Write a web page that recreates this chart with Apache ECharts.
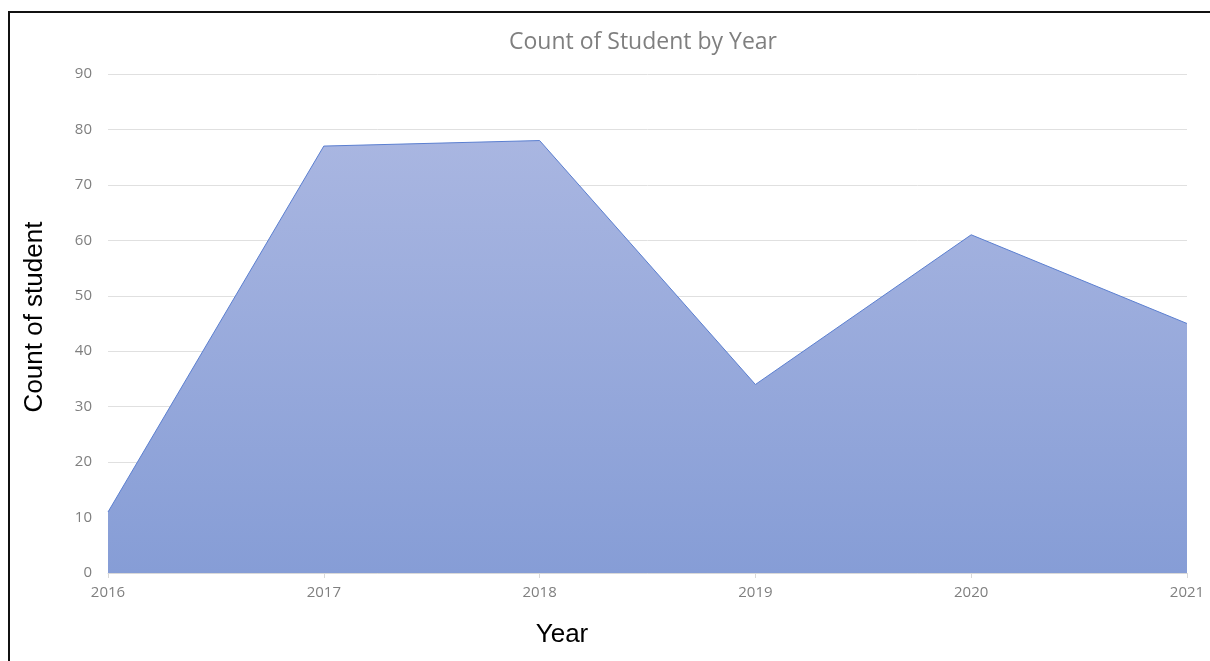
<!DOCTYPE html>
<html>
<head>
<meta charset="utf-8">
<script src="https://cdn.jsdelivr.net/npm/echarts@6/dist/echarts.min.js"></script>
<style>
html,body{margin:0;padding:0;background:#fff;}
#frame{position:absolute;left:8px;top:11px;width:1210px;height:700px;border-left:2px solid #111;border-top:2px solid #111;}
#chart{position:absolute;left:0;top:0;width:1210px;height:661px;}
</style>
</head>
<body>
<div id="frame"></div>
<div id="chart"></div>
<script>
const years = ['2016','2017','2018','2019','2020','2021'];
const studentCounts = [11, 77, 78, 34, 61, 45];
const yTicks = {min: 0, max: 90, interval: 10};
const titleText = 'Count of Student by Year';
const yAxisTitle = 'Count of student';
const xAxisTitle = 'Year';

const chart = echarts.init(document.getElementById('chart'));
chart.setOption({
  animation: false,
  title: {
    text: titleText,
    left: 638, top: 26, textAlign: 'center',
    textStyle: {fontFamily: 'Open Sans, Noto Sans, sans-serif', fontSize: 23, fontWeight: 'normal', color: '#7f7f7f'}
  },
  grid: {left: 108, right: 23, top: 74, bottom: 88},
  xAxis: {
    type: 'category', data: years, boundaryGap: false,
    axisLine: {lineStyle: {color: '#d9d9d9'}},
    axisTick: {show: true, length: 5, lineStyle: {color: '#d9d9d9'}},
    axisLabel: {color: '#7f7f7f', fontSize: 15, fontFamily: 'Open Sans, Noto Sans, sans-serif', margin: 12}
  },
  yAxis: {
    type: 'value', min: yTicks.min, max: yTicks.max, interval: yTicks.interval,
    axisLine: {show: false}, axisTick: {show: false},
    splitLine: {lineStyle: {color: '#e0e0e0'}},
    axisLabel: {color: '#7f7f7f', fontSize: 15, fontFamily: 'Open Sans, Noto Sans, sans-serif', margin: 16}
  },
  graphic: [
    {type: 'text', x: 35, y: 317, rotation: Math.PI/2,
     style: {text: yAxisTitle, fontSize: 26, fontFamily: 'Liberation Sans, Arial, sans-serif', fill: '#000',
             textAlign: 'center', textVerticalAlign: 'middle'}},
    {type: 'text', x: 562, y: 635,
     style: {text: xAxisTitle, fontSize: 26, fontFamily: 'Liberation Sans, Arial, sans-serif', fill: '#000',
             textAlign: 'center', textVerticalAlign: 'middle'}}
  ],
  series: [{
    type: 'line', data: studentCounts, symbol: 'none',
    lineStyle: {color: '#5b7fd0', width: 1},
    areaStyle: {
      opacity: 1,
      color: new echarts.graphic.LinearGradient(0, 0, 0, 1, [
        {offset: 0, color: '#a9b6e1'},
        {offset: 1, color: '#869dd6'}
      ])
    }
  }]
});
</script>
</body>
</html>
